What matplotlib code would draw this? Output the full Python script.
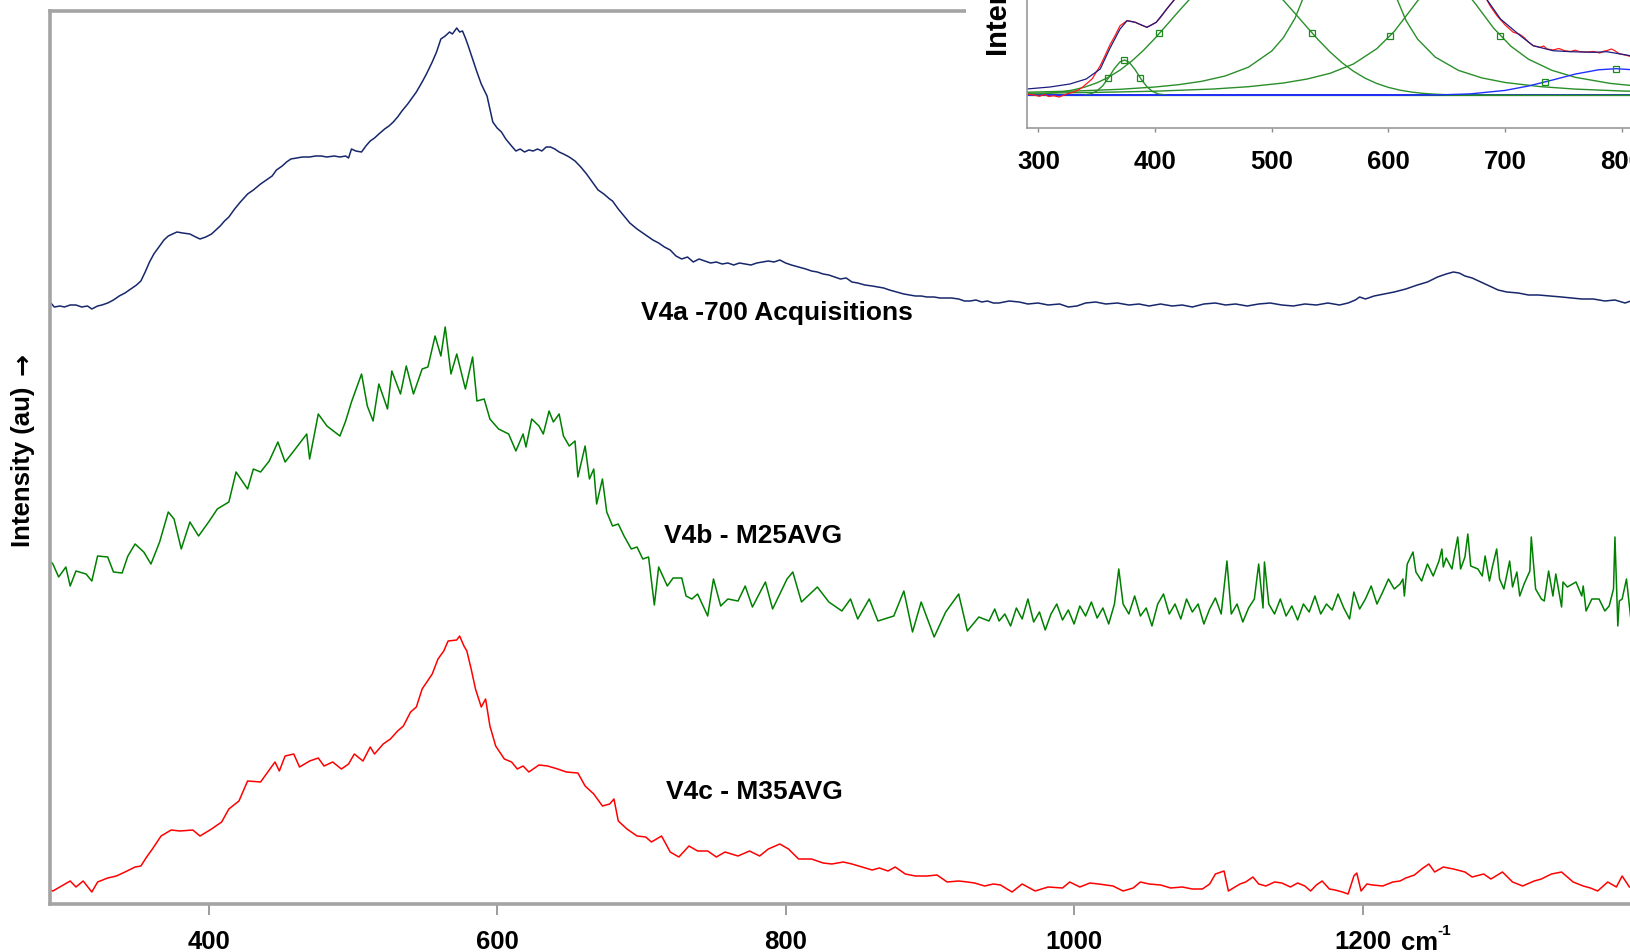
import matplotlib
matplotlib.use("Agg")
import matplotlib.pyplot as plt
from matplotlib.patches import Rectangle

plt.rcParams['font.family'] = ['Liberation Sans', 'DejaVu Sans']
plt.rcParams['font.weight'] = 'bold'

# ---- main spectra (wavenumber cm-1, intensity au) ----
v4a_x = [290, 293, 297, 300, 304, 308, 312, 316, 319, 323, 326, 330, 334, 338, 342, 346, 350, 353, 356, 359,
         362, 366, 369, 372, 375, 378, 382, 387, 391, 394, 398, 402, 405, 408, 411, 414, 418, 422, 427, 431,
         436, 440, 444, 447, 451, 454, 457, 461, 465, 470, 474, 478, 482, 487, 491, 495, 497, 499, 502, 506,
         509, 512, 515, 518, 522, 525, 528, 531, 534, 538, 541, 544, 548, 551, 555, 558, 561, 564, 567, 569,
         572, 574, 576, 578, 580, 583, 586, 589, 593, 595, 597, 600, 603, 606, 610, 613, 616, 619, 622, 625,
         628, 631, 634, 637, 640, 643, 646, 650, 654, 658, 662, 666, 670, 674, 678, 680, 684, 688, 692, 697,
         701, 704, 708, 712, 716, 720, 724, 728, 732, 736, 740, 744, 748, 752, 756, 760, 764, 768, 772, 776,
         780, 784, 788, 792, 796, 800, 804, 809, 814, 818, 822, 826, 830, 834, 838, 842, 846, 850, 855, 860,
         864, 868, 872, 877, 882, 886, 890, 894, 898, 903, 907, 911, 915, 920, 924, 928, 932, 936, 940, 944,
         948, 955, 962, 968, 975, 982, 990, 996, 1002, 1008, 1015, 1022, 1030, 1038, 1045, 1052, 1060, 1068, 1075, 1082,
         1090, 1098, 1105, 1112, 1120, 1128, 1136, 1144, 1152, 1160, 1168, 1176, 1184, 1190, 1195, 1198, 1202, 1208, 1215, 1222,
         1230, 1238, 1245, 1252, 1258, 1263, 1267, 1271, 1276, 1282, 1288, 1294, 1300, 1308, 1315, 1322, 1330, 1338, 1345, 1352,
         1360, 1368, 1375, 1382, 1386]
v4a_y = [602, 597, 598, 597, 599, 599, 597, 598, 595, 598, 599, 601, 604, 608, 611, 615, 619, 623, 632, 642,
         650, 658, 664, 668, 670, 672, 671, 670, 667, 665, 667, 670, 674, 678, 683, 687, 695, 702, 710, 714,
         720, 724, 728, 734, 738, 742, 745, 746, 747, 747, 748, 748, 747, 748, 747, 748, 746, 755, 753, 752,
         758, 763, 766, 770, 775, 778, 782, 787, 793, 800, 806, 812, 822, 830, 842, 852, 865, 868, 872, 870,
         876, 872, 873, 866, 858, 845, 832, 820, 808, 795, 782, 776, 772, 765, 758, 753, 755, 752, 754, 753,
         755, 753, 757, 757, 755, 752, 750, 747, 743, 737, 730, 722, 714, 710, 705, 703, 695, 688, 681, 675,
         671, 668, 664, 661, 657, 654, 648, 645, 647, 642, 645, 643, 641, 642, 640, 641, 639, 641, 640, 639,
         641, 642, 643, 642, 644, 641, 639, 637, 635, 633, 632, 630, 629, 627, 625, 626, 622, 621, 619, 618,
         617, 616, 614, 612, 610, 609, 608, 608, 607, 607, 606, 606, 606, 605, 603, 603, 604, 602, 603, 601,
         601, 603, 602, 600, 601, 599, 600, 597, 598, 601, 602, 600, 601, 599, 600, 598, 600, 598, 599, 597,
         600, 601, 599, 600, 598, 600, 601, 599, 598, 600, 599, 601, 599, 601, 604, 607, 605, 608, 610, 612,
         615, 619, 622, 627, 630, 632, 631, 628, 626, 622, 618, 614, 612, 611, 609, 609, 608, 607, 606, 605,
         605, 603, 604, 601, 603]

v4b_x = [290, 292, 296, 301, 304, 308, 315, 319, 323, 330, 334, 340, 344, 349, 355, 360, 366, 372, 376, 381,
         387, 393, 400, 406, 414, 419, 427, 431, 436, 442, 448, 453, 459, 468, 470, 476, 482, 491, 495, 499,
         506, 510, 514, 518, 524, 527, 533, 537, 542, 548, 552, 557, 561, 564, 568, 572, 578, 583, 586, 591,
         595, 601, 608, 613, 618, 620, 624, 629, 632, 636, 639, 643, 646, 650, 654, 656, 661, 664, 667, 669,
         673, 676, 680, 684, 688, 693, 697, 701, 705, 709, 712, 718, 722, 728, 731, 735, 739, 746, 750, 755,
         760, 767, 772, 777, 786, 791, 801, 805, 811, 822, 830, 839, 845, 850, 858, 864, 875, 882, 888, 894,
         903, 911, 920, 926, 934, 941, 945, 948, 952, 956, 960, 964, 968, 972, 976, 980, 984, 988, 992, 996,
         1000, 1004, 1008, 1012, 1016, 1020, 1024, 1028, 1031, 1034, 1038, 1042, 1046, 1050, 1054, 1058, 1062, 1066, 1070, 1074,
         1078, 1082, 1086, 1090, 1094, 1098, 1102, 1106, 1109, 1113, 1117, 1121, 1125, 1128, 1131, 1132, 1135, 1139, 1143, 1147,
         1151, 1155, 1159, 1163, 1167, 1171, 1175, 1179, 1183, 1187, 1191, 1194, 1198, 1202, 1206, 1210, 1214, 1218, 1222, 1226,
         1228, 1229, 1231, 1235, 1237, 1241, 1245, 1249, 1253, 1255, 1256, 1258, 1262, 1264, 1266, 1268, 1271, 1273, 1275, 1280,
         1283, 1285, 1288, 1290, 1293, 1295, 1298, 1302, 1304, 1307, 1309, 1312, 1316, 1317, 1320, 1324, 1326, 1329, 1332, 1334,
         1338, 1339, 1342, 1348, 1352, 1353, 1355, 1359, 1364, 1368, 1371, 1374, 1375, 1377, 1378, 1380, 1383, 1386]
v4b_y = [343, 340, 327, 337, 318, 333, 330, 323, 348, 347, 332, 331, 348, 360, 352, 340, 362, 392, 385, 355,
         382, 368, 382, 395, 402, 432, 415, 435, 432, 443, 462, 442, 453, 470, 445, 490, 478, 468, 483, 502,
         530, 498, 483, 520, 495, 533, 510, 538, 510, 535, 537, 568, 548, 577, 530, 550, 515, 547, 503, 505,
         485, 475, 470, 453, 470, 457, 485, 478, 470, 493, 482, 490, 468, 458, 463, 427, 458, 425, 435, 400,
         425, 392, 378, 380, 368, 355, 357, 345, 347, 299, 337, 318, 326, 326, 308, 305, 310, 288, 325, 298,
         305, 303, 318, 297, 322, 295, 325, 332, 302, 317, 302, 293, 305, 285, 305, 283, 288, 313, 272, 302,
         267, 292, 310, 273, 287, 283, 295, 283, 290, 278, 296, 285, 305, 282, 292, 274, 290, 300, 284, 294,
         280, 298, 288, 302, 286, 296, 280, 300, 335, 300, 290, 308, 288, 296, 278, 300, 310, 290, 300, 285,
         305, 292, 300, 280, 295, 306, 290, 343, 290, 300, 282, 296, 305, 340, 296, 342, 300, 290, 305, 288,
         298, 284, 300, 292, 308, 290, 300, 294, 310, 296, 285, 312, 295, 305, 318, 300, 312, 325, 315, 320,
         325, 308, 340, 352, 332, 323, 340, 328, 343, 355, 337, 346, 335, 352, 367, 335, 347, 370, 338, 335,
         328, 348, 323, 337, 355, 325, 315, 343, 317, 332, 308, 320, 333, 367, 315, 305, 303, 333, 308, 330,
         297, 322, 317, 322, 308, 318, 293, 305, 305, 293, 298, 315, 367, 278, 303, 305, 325, 285]

v4c_x = [290, 292, 298, 304, 308, 313, 319, 323, 330, 336, 342, 349, 353, 357, 361, 367, 374, 380, 389, 394,
         402, 409, 414, 421, 427, 436, 441, 446, 449, 453, 459, 463, 470, 476, 480, 486, 492, 497, 501, 507,
         512, 515, 521, 526, 531, 535, 540, 544, 548, 555, 559, 563, 566, 572, 574, 577, 579, 582, 585, 589,
         592, 595, 599, 605, 610, 614, 618, 622, 629, 635, 642, 648, 656, 661, 667, 673, 678, 681, 684, 690,
         697, 703, 707, 714, 720, 726, 733, 739, 746, 752, 758, 767, 775, 782, 788, 796, 802, 809, 818, 826,
         832, 840, 846, 853, 860, 865, 871, 876, 883, 890, 898, 905, 912, 920, 926, 931, 938, 944, 949, 957,
         964, 973, 982, 992, 997, 1004, 1011, 1017, 1027, 1034, 1041, 1046, 1052, 1060, 1067, 1075, 1082, 1089, 1094, 1098,
         1104, 1107, 1115, 1119, 1124, 1128, 1133, 1139, 1144, 1150, 1155, 1160, 1164, 1168, 1172, 1177, 1181, 1186, 1190, 1194,
         1196, 1199, 1203, 1207, 1214, 1221, 1226, 1230, 1236, 1241, 1246, 1250, 1256, 1263, 1271, 1276, 1284, 1289, 1297, 1304,
         1311, 1319, 1324, 1331, 1338, 1346, 1353, 1358, 1363, 1370, 1376, 1380, 1385]
v4c_y = [14, 13, 18, 23, 17, 23, 12, 22, 26, 28, 32, 37, 38, 47, 55, 68, 74, 73, 74, 68,
         75, 82, 95, 103, 123, 122, 132, 142, 133, 148, 150, 137, 143, 146, 138, 142, 135, 140, 150, 143,
         157, 150, 160, 165, 173, 178, 192, 197, 215, 230, 245, 253, 263, 264, 268, 258, 253, 235, 215, 197,
         205, 178, 158, 145, 142, 135, 138, 132, 139, 138, 135, 132, 131, 118, 110, 98, 100, 105, 83, 75,
         68, 67, 62, 68, 52, 47, 58, 53, 53, 47, 52, 48, 53, 48, 55, 60, 55, 45, 45, 41,
         40, 42, 40, 37, 34, 36, 33, 37, 30, 28, 28, 29, 22, 23, 22, 21, 18, 20, 19, 12,
         20, 13, 17, 16, 22, 17, 21, 20, 18, 13, 16, 22, 20, 19, 16, 17, 15, 15, 20, 30,
         33, 13, 20, 22, 27, 20, 18, 22, 21, 17, 21, 18, 13, 19, 23, 15, 14, 12, 10, 28,
         31, 13, 20, 19, 18, 22, 23, 26, 29, 35, 40, 32, 37, 35, 32, 27, 30, 25, 32, 22,
         18, 23, 25, 30, 32, 22, 18, 16, 13, 22, 17, 28, 17]

series_names = ['V4a -700 Acquisitions', 'V4b - M25AVG', 'V4c - M35AVG']
x_ticks = [400, 600, 800, 1000, 1200]
x_tick_labels = ['400', '600', '800', '1000', '1200']

# ---- inset: fitted components (wavenumber, intensity) ----
ins_base = 32.7
ins_fit_x = [290, 310, 327, 341, 353, 361, 370, 376, 383, 393, 401, 410, 417, 430, 450, 470, 500, 530, 550, 567,
             585, 605, 630, 650, 670, 684, 696, 713, 724, 741, 756, 776, 787, 799, 807, 830, 850]
ins_fit_y = [39, 41, 44, 49, 59, 79, 99, 107.3, 105.7, 100.7, 105.7, 119, 129, 150, 172, 182, 190, 230, 300, 363,
             300, 230, 190, 178, 150, 129, 109, 92.3, 82.3, 77.3, 76.3, 75.7, 76.3, 74, 72.3, 68, 64]
ins_data_x = [290, 296, 301, 305, 309, 313, 318, 324, 329, 333, 337, 341, 346, 353, 357, 361, 366, 370, 376, 380,
              383, 388, 393, 397, 401, 405, 410, 417, 430, 450, 470, 500, 530, 550, 567, 585, 605, 630, 650, 670,
              684, 687, 693, 700, 707, 712, 716, 720, 724, 730, 733, 736, 741, 746, 751, 756, 760, 764, 770, 776,
              781, 785, 787, 791, 794, 798, 803, 807]
ins_data_y = [34, 33, 31.7, 33.5, 31.5, 32.3, 31, 34, 35.5, 37.3, 40, 44, 49, 62.3, 72, 82.3, 93, 102.3, 107.3, 106.5,
              105.7, 103, 100.7, 103, 105.7, 111, 119, 129, 150, 172, 182, 190, 230, 300, 363, 300, 230, 190, 178, 150,
              129, 122.3, 112.3, 103, 95.7, 94, 90.7, 86, 82.3, 80.7, 82, 79, 78, 79.5, 77.3, 76.5, 77.8, 76.3, 76, 76.5,
              75, 77, 77.3, 79, 77.3, 74, 73, 71.7]
pk1_x = [340, 345, 350, 355, 360, 365, 370, 374, 378, 383, 388, 393, 398, 403, 410]
pk1_y = [33.2, 34.2, 36.9, 42.0, 50.0, 59.2, 66.2, 68.0, 65.6, 58.1, 48.9, 41.3, 36.4, 34.0, 32.9]
pk2_x = [290, 300, 310, 320, 330, 340, 350, 360, 370, 380, 390, 400, 410, 420, 430, 440, 450, 460, 470, 480,
         490, 500, 510, 520, 530, 540, 550, 560, 570, 580, 590, 600, 610, 620, 630, 640, 650, 670, 720, 850]
pk2_y = [33.4, 33.9, 34.8, 36.1, 38.1, 41.0, 45.1, 50.7, 57.9, 66.9, 77.6, 89.8, 103.0, 116.4, 129.3, 140.6, 149.5, 155.0, 156.7, 154.4,
         148.4, 139.2, 127.6, 114.5, 101.1, 88.0, 76.0, 65.5, 56.8, 49.8, 44.5, 40.6, 37.8, 35.9, 34.6, 33.8, 33.3, 33.0, 32.7, 32.7]
pk3_x = [290, 330, 370, 400, 420, 440, 460, 480, 500, 510, 520, 530, 540, 550, 560, 567, 575, 585, 595, 605,
         615, 625, 640, 660, 680, 700, 730, 760, 800, 850]
pk3_y = [35.8, 36.9, 38.7, 41.0, 43.3, 46.7, 52.0, 60.8, 77.0, 90.4, 109.9, 139.0, 181.7, 238.5, 292.6, 307.3, 288.4, 232.4, 176.7, 135.5,
         107.6, 88.8, 71.0, 57.6, 50.1, 45.5, 41.4, 38.9, 37.0, 35.6]
pk4_x = [290, 350, 400, 450, 480, 510, 530, 550, 570, 590, 605, 620, 635, 648.7, 660, 675, 690, 705, 720, 740,
         760, 790, 820, 850]
pk4_y = [34.7, 35.6, 36.8, 39.0, 41.3, 45.0, 48.9, 54.7, 64.0, 79.3, 96.6, 119.5, 142.6, 151.9, 145.4, 123.5, 100.0, 81.7, 68.8, 57.7,
         50.7, 44.6, 41.1, 38.9]
pk5_x = [290, 600, 640, 670, 700, 720, 740, 760, 780, 795, 810, 830, 850]
pk5_y = [32.7, 32.7, 33.0, 34.1, 37.6, 42.0, 47.8, 53.9, 58.2, 59.3, 58.2, 53.8, 47.7]
# half-width / centre markers on the components
mk_green_x = [360, 373.7, 387.1, 403.7, 534.8, 601.7, 695.7]
mk_green_y = [50.3, 68, 50.3, 94.7, 94.7, 92.3, 92.3]
mk_blue_x = [734.2, 794.8]
mk_blue_y = [46.3, 59.3]
ins_ticks = [300, 400, 500, 600, 700, 800]

W, H = 1631, 953
fig = plt.figure(figsize=(W / 100, H / 100), dpi=100)

ax = fig.add_axes([50 / W, (H - 905) / H, 1601 / W, 893.5 / H])
ax.set_zorder(0)
ax.plot(v4a_x, v4a_y, color='#17276b', lw=1.1)
ax.plot(v4b_x, v4b_y, color='#008000', lw=1.1)
ax.plot(v4c_x, v4c_y, color='#ff0000', lw=1.1)
ax.set_xlim(290, 1400)
ax.set_ylim(0, 893.5)
ax.set_yticks([])
ax.set_xticks(x_ticks)
ax.set_xticklabels(x_tick_labels, fontsize=18.5, fontweight='bold')
ax.tick_params(axis='x', direction='out', length=8, width=1.2, color='#8c8c8c', pad=10)
for s in ['left', 'top', 'bottom', 'right']:
    ax.spines[s].set_color('#a4a4a4')
    ax.spines[s].set_linewidth(2.6)

ax.text(700, 592, series_names[0], fontsize=19, fontweight='bold', ha='left', va='center')
ax.text(715.4, 369, series_names[1], fontsize=19, fontweight='bold', ha='left', va='center')
ax.text(716.8, 113, series_names[2], fontsize=19, fontweight='bold', ha='left', va='center')

fig.text(1401 / W, (H - 943) / H, 'cm', fontsize=18.5, fontweight='bold', ha='left', va='center')
fig.text(1437 / W, (H - 931) / H, '-1', fontsize=11, fontweight='bold', ha='left', va='center')
fig.text(23 / W, (H - 467) / H, 'Intensity (au)', rotation=90, fontsize=18.5,
         fontweight='bold', ha='center', va='center')
fig.text(23 / W, (H - 364) / H, '\u2192', rotation=90, fontsize=19, family='DejaVu Sans',
         fontweight='bold', ha='center', va='center')

# white block behind inset (covers main frame top)
fig.patches.append(Rectangle((966 / W, (H - 180) / H), (W - 966) / W, 180 / H,
                             transform=fig.transFigure, facecolor='white', edgecolor='none', zorder=1))

ins = fig.add_axes([1026.7 / W, (H - 129) / H, 653.5 / W, 279 / H])
ins.set_zorder(2)
ins.set_xlim(290, 850)
ins.set_ylim(0, 279)
ins.axhline(ins_base, color='#1010ff', lw=1.3)
ins.axhline(ins_base + 0.8, color='#108010', lw=0.9)
gc = '#2a8f2a'
ins.plot(pk2_x, pk2_y, color=gc, lw=1.0)
ins.plot(pk3_x, pk3_y, color=gc, lw=1.0)
ins.plot(pk4_x, pk4_y, color=gc, lw=1.0)
ins.plot(pk1_x, pk1_y, color=gc, lw=1.0)
ins.plot(pk5_x, pk5_y, color='#2030ff', lw=1.0)
ins.plot(ins_data_x, ins_data_y, color='#ff1a1a', lw=0.9)
ins.plot(ins_fit_x, ins_fit_y, color='#1c1c80', lw=0.9)
ins.plot(mk_green_x, mk_green_y, ls='none', marker='s', ms=4.5, mfc='none', mec='#1a8a1a', mew=0.9)
ins.plot(mk_blue_x, mk_blue_y, ls='none', marker='s', ms=4.5, mfc='none', mec='#1a8a1a', mew=0.9)
ins.set_yticks([])
ins.set_xticks(ins_ticks)
ins.set_xticklabels([str(t) for t in ins_ticks], fontsize=18.5, fontweight='bold')
ins.tick_params(axis='x', direction='out', length=3, width=1, color='#8c8c8c', pad=12)
ins.spines['top'].set_visible(False)
ins.spines['right'].set_visible(False)
for s in ['left', 'bottom']:
    ins.spines[s].set_color('#9a9a9a')
    ins.spines[s].set_linewidth(1.2)

fig.text(999 / W, (H - 56) / H, 'Intensity (au)', rotation=90, fontsize=21, fontweight='bold',
         ha='center', va='bottom', zorder=3)

fig.savefig('out.png', dpi=100, facecolor='white')
